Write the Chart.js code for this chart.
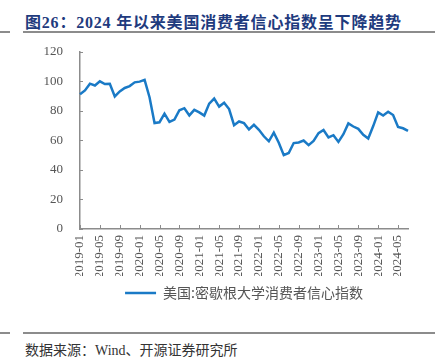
<!DOCTYPE html>
<html>
<head>
<meta charset="utf-8">
<script src="https://cdn.jsdelivr.net/npm/chart.js@4.4.1/dist/chart.umd.min.js"></script>
<style>
  html, body { margin: 0; padding: 0; background: #fff; }
  body { width: 440px; height: 363px; position: relative; overflow: hidden; }
  .title {
    position: absolute; left: 25px; top: 9px;
    font-family: "Liberation Serif", "Noto Sans CJK SC", serif;
    font-weight: bold; font-size: 16px; letter-spacing: 0.8px; color: #1f3b7e; white-space: nowrap;
  }
  .rule { position: absolute; height: 2px; background: #8c8c8c; }
  .source {
    position: absolute; left: 25px; top: 339px;
    font-family: "Liberation Serif", "Noto Sans CJK SC", serif;
    font-size: 14px; color: #333; white-space: nowrap;
  }
  #wrap { position: absolute; left: 0; top: 27px; width: 440px; height: 283px; }
</style>
</head>
<body>
<div class="title">图26：2024 年以来美国消费者信心指数呈下降趋势</div>
<div class="rule" style="left:0;width:10px;top:31px;"></div>
<div class="rule" style="left:23px;width:412px;top:31px;"></div>
<div id="wrap"><canvas id="chart"></canvas></div>
<div class="rule" style="left:0;width:10px;top:332px;"></div>
<div class="rule" style="left:23px;width:412px;top:332px;"></div>
<div class="source">数据来源：Wind、开源证券研究所</div>

<script>
// ================= DATA =================
const years = ["2019", "2020", "2021", "2022", "2023", "2024"];
const months = ["01","02","03","04","05","06","07","08","09","10","11","12"];

const sentiment2019 = [91.2, 93.8, 98.4, 97.2, 100.0, 98.2, 98.4, 89.8, 93.2, 95.5, 96.8, 99.3];
const sentiment2020 = [99.8, 101.0, 89.1, 71.8, 72.3, 78.1, 72.5, 74.1, 80.4, 81.8, 76.9, 80.7];
const sentiment2021 = [79.0, 76.8, 84.9, 88.3, 82.9, 85.5, 81.2, 70.3, 72.8, 71.7, 67.4, 70.6];
const sentiment2022 = [67.2, 62.8, 59.4, 65.2, 58.4, 50.0, 51.5, 58.2, 58.6, 59.9, 56.8, 59.7];
const sentiment2023 = [64.9, 67.0, 62.0, 63.5, 59.0, 64.2, 71.5, 69.4, 67.8, 63.8, 61.3, 69.7];
const sentiment2024 = [79.0, 76.9, 79.4, 77.2, 69.1, 68.2, 66.4];

const values = [].concat(sentiment2019, sentiment2020, sentiment2021,
                         sentiment2022, sentiment2023, sentiment2024);

const labels = [];
years.forEach(y => months.forEach(m => labels.push(y + "-" + m)));
labels.length = values.length;

const yTicks = [0, 20, 40, 60, 80, 100, 120];
const labelEvery = 4;

const seriesName = "美国:密歇根大学消费者信心指数";

// ================= INWARD TICKS =================
const axisColor = "#8c8c8c";

const innerTicks = {
    id: "innerTicks",
    afterDraw(chart) {
        const ctx = chart.ctx;
        const x = chart.scales.x;
        const y = chart.scales.y;
        ctx.save();
        ctx.strokeStyle = axisColor;
        ctx.lineWidth = 1;
        ctx.beginPath();
        labels.forEach((l, i) => {
            if (i % labelEvery !== 0) return;
            const px = Math.round(x.getPixelForValue(i)) + 0.5;
            ctx.moveTo(px, y.bottom);
            ctx.lineTo(px, y.bottom - 4);
        });
        yTicks.forEach(v => {
            const py = Math.round(y.getPixelForValue(v)) + 0.5;
            ctx.moveTo(x.left, py);
            ctx.lineTo(x.left + 3, py);
        });
        ctx.stroke();
        ctx.restore();
    }
};

// ================= CHART =================
const tickFont = { family: "Liberation Serif", size: 13 };

new Chart(document.getElementById("chart"), {
    type: "line",
    data: {
        labels: labels,
        datasets: [{
            label: seriesName,
            data: values,
            borderColor: "#1a7ac6",
            backgroundColor: "#1a7ac6",
            borderWidth: 2.5,
            pointRadius: 0,
            tension: 0
        }]
    },
    options: {
        responsive: true,
        maintainAspectRatio: false,
        animation: false,
        layout: { padding: { top: 2, right: 32, left: 0, bottom: 0 } },
        plugins: {
            legend: {
                position: "bottom",
                fullSize: false,
                labels: {
                    usePointStyle: true,
                    pointStyle: "line",
                    pointStyleWidth: 31,
                    padding: 10,
                    color: "#555",
                    font: { family: "Noto Sans CJK SC", size: 14 }
                }
            },
            tooltip: { enabled: false }
        },
        scales: {
            x: {
                grid: { display: false, drawTicks: false },
                border: { color: axisColor, width: 1.5 },
                afterFit: s => { s.height = 47; },
                ticks: {
                    autoSkip: false,
                    minRotation: 90,
                    maxRotation: 90,
                    padding: 6,
                    color: "#555",
                    font: tickFont,
                    callback: (v, i) => (i % labelEvery === 0 ? labels[i] : "")
                }
            },
            y: {
                min: 0,
                max: 120,
                grid: { display: false, drawTicks: false },
                border: { color: axisColor, width: 1.5 },
                afterFit: s => { s.width = 80; },
                ticks: {
                    stepSize: 20,
                    padding: 17,
                    color: "#555",
                    font: tickFont
                }
            }
        }
    },
    plugins: [innerTicks]
});
</script>
</body>
</html>
